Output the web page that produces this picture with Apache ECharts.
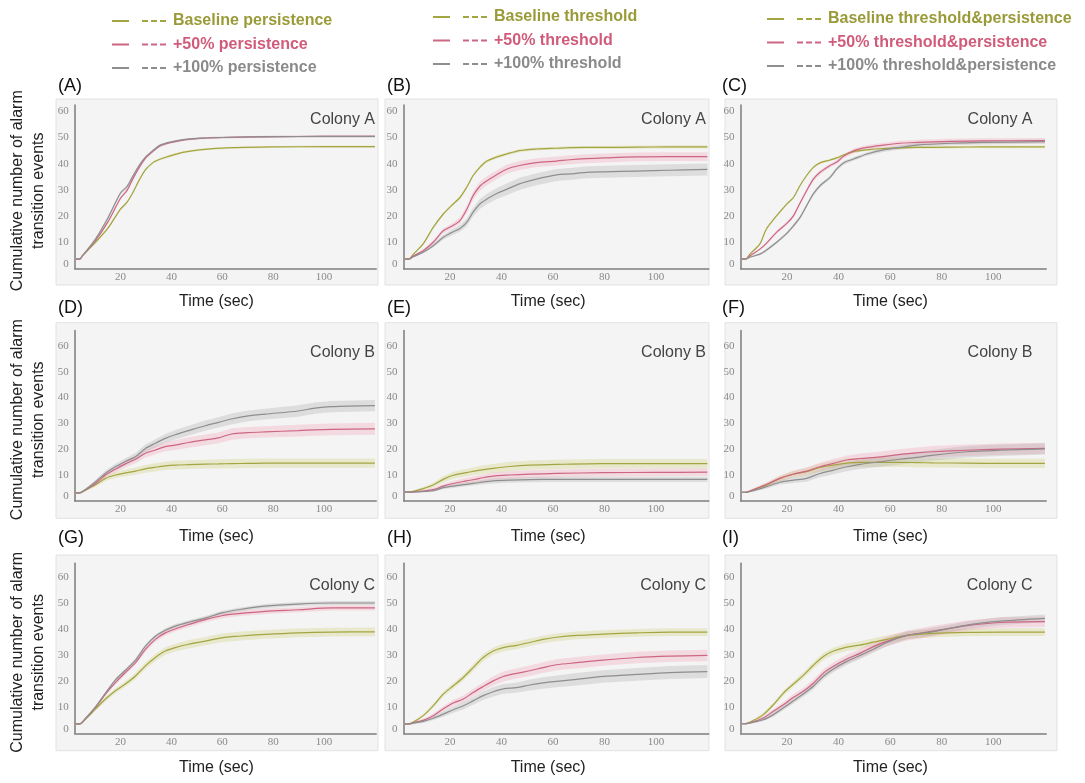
<!DOCTYPE html>
<html><head><meta charset="utf-8">
<script src="https://cdn.jsdelivr.net/npm/echarts@6/dist/echarts.min.js"></script>
<style>html,body{margin:0;padding:0;background:#fff}#c{width:1085px;height:783px}</style>
</head><body><div id="c"></div>
<script>
// ---------- tick labels / names ----------
const xTicks = [20, 40, 60, 80, 100];
const yTicks = [0, 10, 20, 30, 40, 50, 60];
const colonies = ['Colony A', 'Colony B', 'Colony C'];
const panelLetters = ['(A)', '(B)', '(C)', '(D)', '(E)', '(F)', '(G)', '(H)', '(I)'];
const namesPersistence = ['Baseline persistence', '+50% persistence', '+100% persistence'];
const namesThreshold = ['Baseline threshold', '+50% threshold', '+100% threshold'];
const namesBoth = ['Baseline threshold&persistence', '+50% threshold&persistence', '+100% threshold&persistence'];
const xName = 'Time (sec)';
const yName = 'Cumulative number of alarm\ntransition events';

// ---------- Panel A ----------
const tA = [2.5, 4, 5, 10, 15, 20, 22.5, 25, 27.5, 30, 33, 35.5, 39.5, 45, 51, 64, 80, 100, 120];
const baseA = [3.6, 3.6, 4.8, 9.8, 15.3, 22.7, 25.2, 29.2, 34, 37.9, 40.6, 41.7, 43, 44.4, 45.3, 46.1, 46.4, 46.5, 46.5];
const p50A = [3.6, 3.6, 4.8, 10.4, 17.7, 26.8, 29.7, 34.5, 38.8, 42.3, 44.9, 46.8, 48, 49.1, 49.7, 50.1, 50.3, 50.4, 50.4];
const p100A = [3.6, 3.6, 4.8, 11, 19.2, 28.8, 31.2, 35.5, 39.6, 42.7, 45.2, 47, 48.2, 49.2, 49.7, 50.1, 50.3, 50.4, 50.4];
const bandA_base = [0.2,0.2,0.3,0.4,0.5,0.5,0.5,0.5,0.5,0.5,0.5,0.5,0.5,0.4,0.4,0.4,0.4,0.4,0.4];
const bandA_p50 = [0.2,0.2,0.3,0.4,0.5,0.6,0.6,0.6,0.6,0.5,0.5,0.5,0.4,0.4,0.4,0.4,0.4,0.4,0.4];
const bandA_p100 = [0.2,0.2,0.3,0.4,0.6,0.7,0.7,0.7,0.6,0.5,0.5,0.5,0.4,0.4,0.4,0.4,0.4,0.4,0.4];

// ---------- Panel B ----------
const tB = [2.5, 4, 5.8, 9.6, 13.5, 17.4, 20.6, 23.9, 26.5, 29, 31.6, 34.2, 38, 42, 47, 53.6, 61.4, 66.6, 73, 80, 92.5, 105, 120];
const baseB = [3.6, 3.6, 5.5, 9.4, 15.7, 20.8, 24, 27.1, 31, 35.5, 38.6, 40.9, 42.5, 43.7, 45, 45.6, 45.9, 46.1, 46.2, 46.2, 46.3, 46.4, 46.4];
const p50B = [3.6, 3.6, 4.8, 6.8, 10, 14.4, 16.1, 18.3, 22.5, 27.8, 31.4, 33.4, 35.7, 37.9, 39.3, 40.4, 41, 41.5, 41.9, 42.2, 42.6, 42.7, 42.7];
const p100B = [3.6, 3.6, 4.5, 6.2, 8.7, 11.9, 13.7, 15.3, 17.6, 21.5, 24.6, 26.4, 28.5, 30.2, 32.3, 34.1, 35.7, 36.1, 36.7, 36.9, 37.2, 37.5, 37.8];
const bandB_base = [0.2,0.2,0.3,0.4,0.5,0.6,0.6,0.6,0.6,0.6,0.6,0.6,0.6,0.6,0.6,0.6,0.6,0.6,0.6,0.6,0.6,0.6,0.6];
const bandB_p50 = [0.2,0.2,0.3,0.5,0.7,0.9,1.0,1.2,1.4,1.6,1.7,1.7,1.7,1.7,1.7,1.7,1.7,1.7,1.7,1.7,1.7,1.7,1.7];
const bandB_p100 = [0.2,0.2,0.3,0.5,0.7,0.9,1.1,1.3,1.5,1.7,1.9,2.0,2.1,2.2,2.3,2.3,2.3,2.3,2.3,2.3,2.3,2.3,2.3];

// ---------- Panel C ----------
const tC = [2.5, 4, 5.6, 9.5, 12, 16, 19.9, 22.5, 25, 27.6, 30.2, 32.8, 36.7, 39.3, 41.9, 45.8, 51, 57.4, 63.9, 70.3, 83.3, 96.2, 120];
const baseC = [3.6, 3.6, 5.5, 9.4, 15.1, 20.2, 24.6, 27.1, 31.6, 35.5, 38.6, 40.3, 41.4, 42.2, 43.3, 44.6, 45.3, 45.8, 46.0, 46.2, 46.3, 46.4, 46.4];
const p50C = [3.6, 3.6, 4.8, 7.4, 9.6, 13.9, 17.2, 20.1, 24.9, 29.7, 34.1, 36.7, 39.3, 40.6, 42.8, 44.9, 46.2, 47.1, 47.8, 48.1, 48.5, 48.7, 48.8];
const p100C = [3.6, 3.6, 4.3, 5.5, 7, 10, 13.4, 16.3, 19.4, 24, 28.5, 31.6, 34.8, 38, 40.3, 41.8, 43.7, 45.3, 46.2, 47.1, 47.8, 48.1, 48.4];
const bandC_base = [0.2,0.2,0.3,0.4,0.5,0.5,0.5,0.5,0.5,0.5,0.5,0.5,0.5,0.5,0.5,0.5,0.5,0.5,0.5,0.5,0.5,0.5,0.5];
const bandC_p50 = [0.2,0.2,0.3,0.4,0.5,0.6,0.7,0.7,0.8,0.8,0.8,0.8,0.8,0.8,0.8,0.9,0.9,0.9,1.0,1.0,1.0,1.0,1.0];
const bandC_p100 = [0.2,0.2,0.3,0.4,0.5,0.6,0.6,0.7,0.7,0.7,0.7,0.7,0.7,0.7,0.7,0.7,0.7,0.8,0.8,0.8,0.8,0.8,0.8];

// ---------- Panel D ----------
const tD = [2.4, 4, 6.3, 10.2, 14.1, 18, 21.9, 25.9, 29.8, 33.7, 37.6, 41.5, 46.8, 53.3, 58.5, 63.7, 70.2, 76.8, 89.8, 96.4, 102.9, 120];
const baseD = [3.1, 3.1, 4.2, 6.2, 8.7, 10, 10.8, 11.5, 12.4, 13, 13.5, 13.8, 14, 14.2, 14.3, 14.4, 14.5, 14.6, 14.6, 14.6, 14.6, 14.6];
const p50D = [3.1, 3.1, 4.3, 6.7, 10, 12.2, 14.3, 16.1, 18.4, 19.7, 21, 21.6, 22.6, 23.6, 24.4, 25.9, 26.4, 26.7, 27.2, 27.5, 27.7, 27.9];
const p100D = [3.1, 3.1, 4.4, 7.4, 10.7, 13.2, 15.2, 17.1, 20.3, 22.3, 24.2, 25.6, 27.2, 29.1, 30.4, 31.7, 32.9, 33.6, 34.8, 35.9, 36.5, 36.9];
const bandD_base = [0.2,0.3,0.5,0.8,1.0,1.2,1.3,1.4,1.5,1.6,1.6,1.7,1.7,1.7,1.8,1.8,1.8,1.8,1.8,1.8,1.8,1.8];
const bandD_p50 = [0.2,0.3,0.5,0.8,1.0,1.2,1.4,1.5,1.6,1.7,1.8,1.9,2.0,2.1,2.1,2.2,2.2,2.2,2.3,2.3,2.3,2.3];
const bandD_p100 = [0.2,0.3,0.5,0.8,1.0,1.2,1.3,1.4,1.5,1.6,1.7,1.8,1.9,2.0,2.0,2.1,2.1,2.1,2.2,2.2,2.2,2.2];

// ---------- Panel E ----------
const tE = [2.5, 4, 5.8, 9.6, 13.5, 17.4, 21.3, 26.5, 31.6, 36.8, 43.3, 51, 61.4, 79.5, 100, 120];
const baseE = [3.4, 3.4, 3.7, 4.7, 6.1, 8.3, 9.9, 10.9, 11.9, 12.6, 13.3, 13.8, 14.1, 14.4, 14.4, 14.4];
const p50E = [3.4, 3.4, 3.5, 3.8, 4.3, 5.7, 6.7, 7.7, 8.7, 9.6, 10, 10.3, 10.6, 10.9, 11, 11.1];
const p100E = [3.4, 3.4, 3.4, 3.6, 3.9, 5.1, 5.7, 6.4, 7.1, 7.7, 8.0, 8.2, 8.3, 8.3, 8.3, 8.3];
const bandE_base = [0.2,0.3,0.4,0.6,0.9,1.2,1.4,1.5,1.6,1.7,1.8,1.8,1.8,1.8,1.8,1.8];
const bandE_p50 = [0.2,0.3,0.4,0.5,0.7,0.9,1.1,1.2,1.3,1.4,1.5,1.5,1.5,1.5,1.5,1.5];
const bandE_p100 = [0.2,0.2,0.3,0.4,0.5,0.6,0.7,0.8,0.9,1.0,1.0,1.0,1.0,1.0,1.0,1.0];

// ---------- Panel F ----------
const tF = [2.5, 4, 6.9, 12.1, 17.3, 22.5, 27.6, 32.8, 38, 43.2, 48.3, 56, 63.9, 70.3, 76.8, 89.8, 102.7, 120];
const baseF = [3.3, 3.3, 4.3, 6.1, 8.7, 10.3, 11.3, 12.9, 13.8, 14.6, 14.9, 14.9, 14.9, 14.8, 14.7, 14.6, 14.5, 14.5];
const p50F = [3.3, 3.3, 4.3, 6.4, 8.7, 10.4, 11.5, 13.2, 14.5, 15.8, 16.4, 17, 18, 18.6, 19, 19.6, 20, 20.3];
const p100F = [3.3, 3.3, 3.9, 5.5, 7.2, 8.0, 8.7, 10.6, 11.9, 13.2, 14.1, 15.1, 16.1, 16.8, 17.7, 19, 19.6, 20.1];
const bandF_base = [0.2,0.3,0.5,0.8,1.1,1.3,1.5,1.6,1.7,1.8,1.8,1.8,1.8,1.8,1.8,1.8,1.8,1.8];
const bandF_p50 = [0.2,0.3,0.5,0.8,1.0,1.2,1.4,1.5,1.7,1.8,1.9,2.0,2.1,2.1,2.2,2.2,2.2,2.2];
const bandF_p100 = [0.2,0.3,0.5,0.7,0.9,1.1,1.3,1.5,1.6,1.7,1.8,1.9,2.0,2.1,2.1,2.2,2.2,2.2];

// ---------- Panel G ----------
const tG = [2.4, 4, 6.3, 10.2, 14.1, 18, 21.9, 25.9, 29.8, 33.7, 37.6, 41.5, 46.8, 53.3, 59.8, 66.3, 76.8, 89.8, 102.9, 120];
const baseG = [3.6, 3.6, 5.5, 9.4, 13.2, 16.4, 19, 22.1, 26, 29.2, 31.7, 33, 34.3, 35.5, 36.8, 37.4, 38.1, 38.7, 39, 39.1];
const p50G = [3.6, 3.6, 5.7, 10, 15.1, 19.5, 23.4, 27.2, 32.3, 36.2, 38.7, 40.2, 41.9, 43.8, 45.3, 46.1, 47, 47.6, 48.3, 48.3];
const p100G = [3.6, 3.6, 5.8, 10.2, 15.5, 20.6, 24.3, 28.2, 33.6, 37.4, 39.7, 41.3, 42.8, 44.4, 46.4, 47.6, 49, 49.8, 50.2, 50.2];
const bandG_base = [0.2,0.3,0.5,0.7,0.9,1.0,1.1,1.2,1.3,1.4,1.5,1.5,1.6,1.6,1.7,1.7,1.7,1.7,1.7,1.7];
const bandG_p50 = [0.2,0.3,0.4,0.5,0.6,0.7,0.8,0.8,0.9,0.9,1.0,1.0,1.0,1.0,1.0,1.0,1.0,1.0,1.0,1.0];
const bandG_p100 = [0.2,0.2,0.3,0.4,0.5,0.6,0.6,0.7,0.7,0.7,0.8,0.8,0.8,0.8,0.8,0.8,0.8,0.8,0.8,0.8];

// ---------- Panel H ----------
const tH = [2.5, 4, 5.8, 9.6, 13.5, 17.4, 21.3, 25.2, 29, 32.9, 36.8, 40.7, 45.9, 51, 56.2, 61.4, 69.2, 79.5, 92.5, 105.4, 120];
const baseH = [3.6, 3.6, 4.3, 6.8, 10.6, 15.1, 18.3, 21.5, 25.3, 29.2, 31.7, 33, 33.9, 35, 36.2, 37, 37.7, 38.2, 38.7, 39, 39];
const p50H = [3.6, 3.6, 4.1, 5, 6.8, 9.4, 11.7, 13.2, 15.7, 18, 20.2, 21.9, 23.1, 24.1, 25.3, 26.4, 27.2, 28.2, 29.2, 29.7, 30];
const p100H = [3.6, 3.6, 3.9, 4.6, 5.8, 7.4, 9.1, 10.6, 12.5, 14.5, 16, 17.1, 17.6, 18.6, 19.4, 20, 20.8, 21.9, 22.7, 23.4, 23.8];
const bandH_base = [0.2,0.3,0.4,0.6,0.8,1.0,1.1,1.2,1.3,1.4,1.4,1.5,1.5,1.5,1.5,1.5,1.5,1.5,1.5,1.5,1.5];
const bandH_p50 = [0.2,0.3,0.4,0.6,0.8,1.0,1.2,1.4,1.5,1.6,1.8,1.9,2.0,2.0,2.1,2.1,2.2,2.2,2.2,2.2,2.2];
const bandH_p100 = [0.2,0.3,0.4,0.6,0.8,1.0,1.2,1.4,1.5,1.7,1.8,1.9,2.0,2.1,2.2,2.3,2.4,2.4,2.5,2.5,2.5];

// ---------- Panel I ----------
const tI = [2.5, 4, 6.9, 10.8, 14.7, 18.6, 22.5, 26.3, 30.2, 34.1, 38, 43.2, 48.3, 53.5, 58.7, 66.5, 76.8, 89.8, 102.7, 120];
const baseI = [3.7, 3.7, 4.9, 7.2, 11, 15.5, 19, 22.3, 26.2, 29.6, 31.7, 33.2, 34, 35.1, 36.2, 37.7, 38.5, 38.9, 39, 39];
const p50I = [3.7, 3.7, 4.4, 5.9, 8.5, 11, 13.9, 16.2, 19.3, 23.2, 25.8, 28.6, 30.8, 33.4, 35.4, 37.7, 39.4, 41.5, 42.7, 43];
const p100I = [3.7, 3.7, 4.3, 5.2, 7.2, 9.8, 12.5, 15.1, 18.1, 22, 24.8, 27.7, 30, 32.4, 35, 37.7, 39.2, 41.7, 43.2, 44.3];
const bandI_base = [0.2,0.3,0.5,0.7,0.9,1.0,1.1,1.2,1.3,1.4,1.4,1.5,1.5,1.5,1.5,1.5,1.5,1.5,1.5,1.5];
const bandI_p50 = [0.2,0.3,0.5,0.7,0.9,1.1,1.2,1.3,1.4,1.5,1.6,1.7,1.8,1.8,1.9,1.9,2.0,2.0,2.0,2.0];
const bandI_p100 = [0.2,0.3,0.4,0.6,0.8,0.9,1.0,1.1,1.2,1.3,1.3,1.4,1.4,1.4,1.5,1.5,1.5,1.5,1.5,1.5];

// ---------- assemble ----------
const panels = [
  {t: tA, m: [baseA, p50A, p100A], b: [bandA_base, bandA_p50, bandA_p100]},
  {t: tB, m: [baseB, p50B, p100B], b: [bandB_base, bandB_p50, bandB_p100]},
  {t: tC, m: [baseC, p50C, p100C], b: [bandC_base, bandC_p50, bandC_p100]},
  {t: tD, m: [baseD, p50D, p100D], b: [bandD_base, bandD_p50, bandD_p100]},
  {t: tE, m: [baseE, p50E, p100E], b: [bandE_base, bandE_p50, bandE_p100]},
  {t: tF, m: [baseF, p50F, p100F], b: [bandF_base, bandF_p50, bandF_p100]},
  {t: tG, m: [baseG, p50G, p100G], b: [bandG_base, bandG_p50, bandG_p100]},
  {t: tH, m: [baseH, p50H, p100H], b: [bandH_base, bandH_p50, bandH_p100]},
  {t: tI, m: [baseI, p50I, p100I], b: [bandI_base, bandI_p50, bandI_p100]}
];
const namesByCol = [namesPersistence, namesThreshold, namesBoth];

// layout / style
const colLeft = [74.7, 403.6, 740.6], colWidth = [301.5, 305.1, 305.6];
const rowTop = [105, 330.5, 563.3], rowHeight = [163.5, 170.3, 170], rowMax = [62.4, 66, 65.5];
const boxX = [[56, 378], [385, 709], [725, 1057]];
const boxY = [[99, 285], [322.7, 518.3], [555, 750.7]];
const lineColors = ['#a3a540', '#cc6683', '#8e8e8e'];
const bandColors = ['rgba(205,205,115,0.30)', 'rgba(240,150,175,0.28)', 'rgba(150,150,150,0.24)'];
const legendTextColors = ['#9a9b38', '#d05b7b', '#8a8a8a'];
const titleRight = [710, 379, 52.5];
const titleTop = [111, 344, 577];
const xNameGap = [25.5, 28, 26.7];
const xNamePad = [18, 16, 6];
const letterX = [58, 387, 722], letterY = [86, 308, 538];
const legendLeft = [107, 428, 762], legendTop = [8, 4, 6];

const grids = [], xAxes = [], yAxes = [], series = [], titles = [], gfx = [];
panels.forEach((p, i) => {
  const r = Math.floor(i / 3), c = i % 3;
  grids.push({left: colLeft[c], top: rowTop[r], width: colWidth[c], height: rowHeight[r], containLabel: false});
  xAxes.push({
    type: 'value', gridIndex: i, min: 2, max: 120.5,
    axisLine: {show: true, onZero: false, lineStyle: {color: '#7d7d7d', width: 1.5}},
    axisTick: {show: false}, splitLine: {show: false},
    axisLabel: {customValues: xTicks, margin: 3, fontFamily: 'Liberation Serif', fontSize: 11, color: '#8a8a8a'},
    name: xName, nameLocation: 'middle', nameGap: xNameGap[r],
    nameTextStyle: {fontFamily: 'Liberation Sans', fontSize: 16, color: '#222', padding: [0, xNamePad[c], 0, 0]}
  });
  const ya = {
    type: 'value', gridIndex: i, min: 0, max: rowMax[r],
    axisLine: {show: true, lineStyle: {color: '#7d7d7d', width: 1.5}},
    axisTick: {show: false}, splitLine: {show: false},
    axisLabel: {
      customValues: yTicks, margin: 6, fontFamily: 'Liberation Serif', fontSize: 11, color: '#8a8a8a',
      formatter: v => v === 0 ? '{z|0}' : String(v),
      rich: {z: {fontFamily: 'Liberation Serif', fontSize: 11, color: '#8a8a8a', padding: [0, 0, 9, 0]}}
    }
  };
  if (c === 0) {
    Object.assign(ya, {
      name: yName, nameLocation: 'middle', nameGap: 26, nameRotate: 90,
      nameTextStyle: {fontFamily: 'Liberation Sans', fontSize: 16, color: '#222', lineHeight: 21, padding: [0, 8, 0, 0]}
    });
  }
  yAxes.push(ya);
  titles.push({
    text: colonies[r], right: titleRight[c], top: titleTop[r], padding: 0,
    textStyle: {fontFamily: 'Liberation Sans', fontSize: 16, fontWeight: 'normal', color: '#444', lineHeight: 18}
  });
  gfx.push({type: 'rect', z: -10, silent: true,
    shape: {x: boxX[c][0], y: boxY[r][0], width: boxX[c][1] - boxX[c][0], height: boxY[r][1] - boxY[r][0]},
    style: {fill: '#f4f4f4', stroke: '#e2e2e2', lineWidth: 1}});
  gfx.push({type: 'text', z: 10, silent: true, x: letterX[c], y: letterY[r],
    style: {text: panelLetters[i], fontFamily: 'Liberation Sans', fontSize: 18, fill: '#111', verticalAlign: 'middle', align: 'left'}});

  // confidence bands: one polygon per series, built from the data through the axes (api.coord)
  for (let k = 0; k < 3; k++) {
    const m = p.m[k], h = p.b[k], tt = p.t, col = bandColors[k];
    series.push({
      type: 'custom', name: 'band', xAxisIndex: i, yAxisIndex: i, silent: true, z: 1,
      clip: true,
      encode: {x: 0, y: [1, 2]},
      data: tt.map((x, j) => [x, m[j] - h[j], m[j] + h[j]]),
      renderItem: (params, api) => {
        if (params.dataIndex !== 0) return null;
        const pts = [];
        for (let j = 0; j < tt.length; j++) pts.push(api.coord([tt[j], m[j] + h[j]]));
        for (let j = tt.length - 1; j >= 0; j--) pts.push(api.coord([tt[j], m[j] - h[j]]));
        return {type: 'polygon', shape: {points: pts}, style: {fill: col}};
      }
    });
  }
  for (let k = 0; k < 3; k++) {
    series.push({
      type: 'line', name: namesByCol[c][k], xAxisIndex: i, yAxisIndex: i,
      symbol: 'none', smooth: 0.3, z: 3 + (k === 0 ? 0 : 1),
      itemStyle: {color: lineColors[k]}, lineStyle: {color: lineColors[k], width: 1.2},
      data: p.t.map((x, j) => [x, p.m[k][j]])
    });
  }
});

const legends = [0, 1, 2].map(c => ({
  left: legendLeft[c], top: legendTop[c], orient: 'vertical', itemGap: 7.5,
  itemWidth: 54, itemHeight: 2, selectedMode: false,
  icon: 'path://M0,0H17V2H0Z M30,0H36V2H30Z M39,0H45V2H39Z M48,0H54V2H48Z',
  textStyle: {fontFamily: 'Liberation Sans', fontWeight: 'bold', fontSize: 16, padding: [0, 0, 0, 2]},
  data: namesByCol[c].map((n, k) => ({name: n, itemStyle: {color: lineColors[k], borderWidth: 0}, textStyle: {color: legendTextColors[k]}}))
}));

const chart = echarts.init(document.getElementById('c'), null, {renderer: 'canvas'});
chart.setOption({
  animation: false,
  backgroundColor: '#ffffff',
  title: titles,
  legend: legends,
  grid: grids,
  xAxis: xAxes,
  yAxis: yAxes,
  graphic: {elements: gfx},
  series: series
});
</script>
</body></html>
